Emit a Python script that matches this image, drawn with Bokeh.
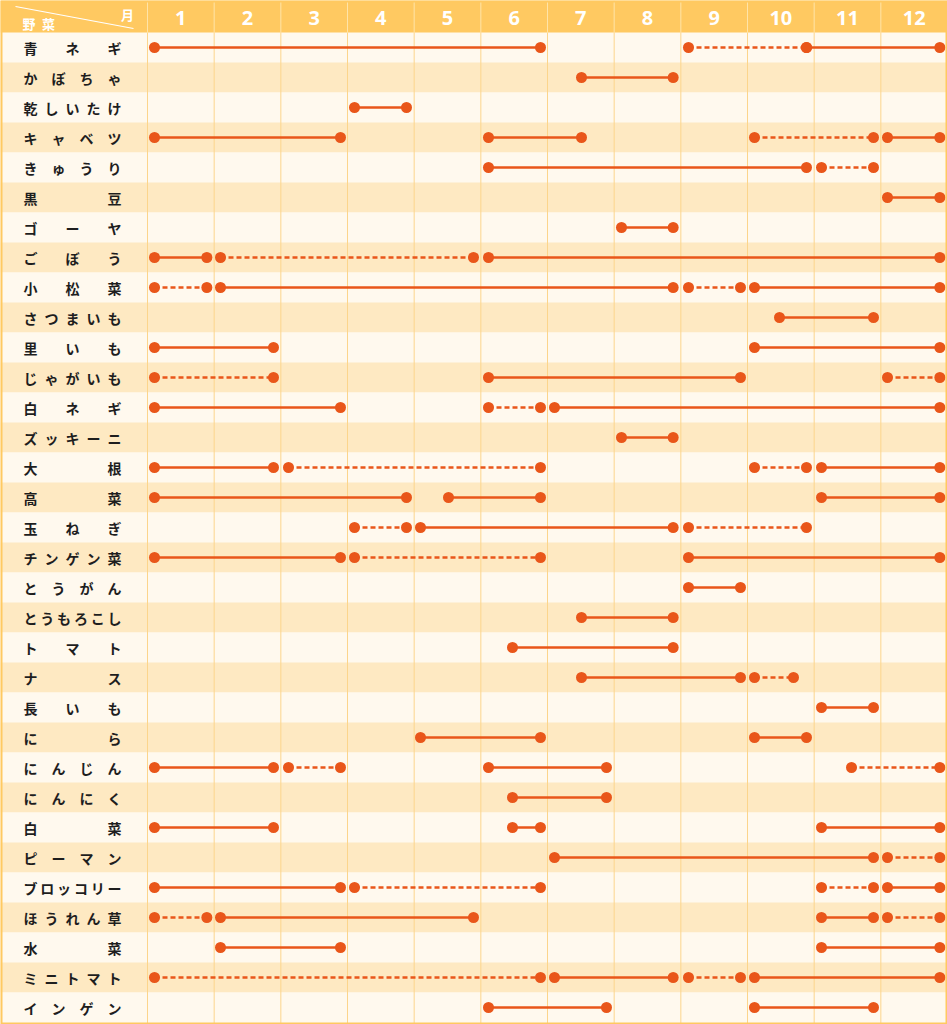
from bokeh.plotting import figure
from bokeh.models import Range1d, ColumnDataSource
from bokeh.core.properties import value
from bokeh.embed import file_html
from bokeh.resources import INLINE

# ---------------- data ----------------
vegetables = ["青ネギ", "かぼちゃ", "乾しいたけ", "キャベツ", "きゅうり", "黒豆", "ゴーヤ",
              "ごぼう", "小松菜", "さつまいも", "里いも", "じゃがいも", "白ネギ", "ズッキーニ",
              "大根", "高菜", "玉ねぎ", "チンゲン菜", "とうがん", "とうもろこし", "トマト",
              "ナス", "長いも", "にら", "にんじん", "にんにく", "白菜", "ピーマン",
              "ブロッコリー", "ほうれん草", "水菜", "ミニトマト", "インゲン"]
month_labels = ["1", "2", "3", "4", "5", "6", "7", "8", "9", "10", "11", "12"]

# segments: vegetable, start (month position), end (month position), dashed?
seg_veg = ["青ネギ", "青ネギ", "青ネギ",
           "かぼちゃ",
           "乾しいたけ",
           "キャベツ", "キャベツ", "キャベツ", "キャベツ",
           "きゅうり", "きゅうり",
           "黒豆",
           "ゴーヤ",
           "ごぼう", "ごぼう", "ごぼう",
           "小松菜", "小松菜", "小松菜", "小松菜",
           "さつまいも",
           "里いも", "里いも",
           "じゃがいも", "じゃがいも", "じゃがいも",
           "白ネギ", "白ネギ", "白ネギ",
           "ズッキーニ",
           "大根", "大根", "大根", "大根",
           "高菜", "高菜", "高菜",
           "玉ねぎ", "玉ねぎ", "玉ねぎ",
           "チンゲン菜", "チンゲン菜", "チンゲン菜",
           "とうがん",
           "とうもろこし",
           "トマト",
           "ナス", "ナス",
           "長いも",
           "にら", "にら",
           "にんじん", "にんじん", "にんじん", "にんじん",
           "にんにく",
           "白菜", "白菜", "白菜",
           "ピーマン", "ピーマン",
           "ブロッコリー", "ブロッコリー", "ブロッコリー", "ブロッコリー",
           "ほうれん草", "ほうれん草", "ほうれん草", "ほうれん草",
           "水菜", "水菜",
           "ミニトマト", "ミニトマト", "ミニトマト", "ミニトマト",
           "インゲン", "インゲン"]
seg_start = [1.105, 9.115, 10.885,
             7.51,
             4.105,
             1.105, 6.115, 10.105, 12.1,
             6.115, 11.11,
             12.1,
             8.11,
             1.105, 2.095, 6.115,
             1.105, 2.095, 9.115, 10.105,
             10.48,
             1.105, 10.105,
             1.105, 6.115, 12.1,
             1.105, 6.115, 7.105,
             8.11,
             1.105, 3.115, 10.105, 11.11,
             1.105, 5.515, 11.11,
             4.105, 5.095, 9.115,
             1.105, 4.105, 9.115,
             9.115,
             7.51,
             6.475,
             7.51, 10.105,
             11.11,
             5.095, 10.105,
             1.105, 3.115, 6.115, 11.56,
             6.475,
             1.105, 6.475, 11.11,
             7.105, 12.1,
             1.105, 4.105, 11.11, 12.1,
             1.105, 2.095, 11.11, 12.1,
             2.095, 11.11,
             1.105, 7.105, 9.115, 10.105,
             6.115, 10.105]
seg_end = [6.895, 10.885, 12.885,
           8.885,
           4.885,
           3.895, 7.51, 11.89, 12.885,
           10.885, 11.89,
           12.885,
           8.885,
           1.89, 5.89, 12.885,
           1.89, 8.885, 9.895, 12.885,
           11.89,
           2.89, 12.885,
           2.89, 9.895, 12.885,
           3.895, 6.895, 12.885,
           8.885,
           2.89, 6.895, 10.885, 12.885,
           4.885, 6.895, 12.885,
           4.885, 8.885, 10.885,
           3.895, 6.895, 12.885,
           9.895,
           8.885,
           8.885,
           9.895, 10.69,
           11.89,
           6.895, 10.885,
           2.89, 3.895, 7.885, 12.885,
           7.885,
           2.89, 6.895, 12.885,
           11.89, 12.885,
           3.895, 6.895, 11.89, 12.885,
           1.89, 5.89, 11.89, 12.885,
           3.895, 12.885,
           6.895, 8.885, 9.895, 12.885,
           7.885, 11.89]
seg_dashed = [False, True, False,
              False,
              False,
              False, False, True, False,
              False, True,
              False,
              False,
              False, True, False,
              True, False, True, False,
              False,
              False, False,
              True, False, True,
              False, True, False,
              False,
              False, True, True, False,
              False, False, False,
              True, False, True,
              False, True, False,
              False,
              False,
              False,
              False, True,
              False,
              False, False,
              False, True, False, True,
              False,
              False, False, False,
              False, True,
              False, True, True, False,
              True, False, False, True,
              False, False,
              True, False, True, False,
              False, False]

# ---------------- layout helpers ----------------
W, H = 947, 1024
LABEL_PX = 147
PXM = (W - LABEL_PX) / 12.0          # pixels per month
X0 = 1 - LABEL_PX / PXM
ROW_PX = 30
HEADER_PX = 32
Y_TOP = 1 - (HEADER_PX + ROW_PX / 2) / ROW_PX
Y_BOT = 1 + (H - HEADER_PX - ROW_PX / 2) / ROW_PX

def xpx(px):
    return X0 + px / PXM

def ypx(py):
    return Y_TOP + py / ROW_PX

HEADER = "#FFC961"
ROW_A = "#FFF9EE"
ROW_B = "#FEE9C2"
GRIDC = "#FCD58C"
MARK = "#E9561A"
TEXTC = "#1E1E1E"

p = figure(width=W, height=H, x_range=Range1d(X0, 13), y_range=Range1d(Y_BOT, Y_TOP),
           output_backend="svg", toolbar_location=None, min_border=0,
           x_axis_location=None, y_axis_location=None)
p.grid.visible = False
p.outline_line_color = None
p.background_fill_color = ROW_A
p.border_fill_color = ROW_A

n = len(vegetables)
rows = list(range(1, n + 1))
row_colors = [ROW_A if i % 2 == 1 else ROW_B for i in rows]
p.quad(left=X0, right=13, top=[r - 0.5 for r in rows], bottom=[r + 0.5 for r in rows],
       fill_color=row_colors, line_color=None)

# header band
p.quad(left=X0, right=13, top=Y_TOP, bottom=0.5, fill_color=HEADER, line_color=None)

# vertical grid lines
bounds = list(range(1, 14))
p.segment(x0=bounds, x1=bounds, y0=0.5, y1=Y_BOT, line_color=GRIDC, line_width=1)
p.segment(x0=bounds[:-1], x1=bounds[:-1], y0=Y_TOP, y1=0.5, line_color="#FFE4A8", line_width=1)

# header texts
p.text(x=[m + 0.5 for m in range(1, 13)], y=ypx(17), text=month_labels,
       text_color="white", text_font=value("Noto Sans"), text_font_style="bold",
       text_font_size="20px", text_align="center", text_baseline="middle")
p.segment(x0=xpx(15), y0=ypx(6), x1=xpx(133), y1=ypx(28), line_color="white", line_width=1.2)
p.text(x=xpx(22), y=ypx(23), text=["野\u2002菜"], text_color="white",
       text_font=value("Noto Sans CJK JP"), text_font_style="bold", text_font_size="13px",
       text_align="left", text_baseline="middle")
p.text(x=xpx(127), y=ypx(14), text=["月"], text_color="white",
       text_font=value("Noto Sans CJK JP"), text_font_style="bold", text_font_size="13px",
       text_align="center", text_baseline="middle")

# row labels (justified with spaces)
def spaced(s):
    k = len(s)
    sep = {2: "\u3000" * 5, 3: "\u3000" * 2, 4: "\u3000", 5: "\u2002", 6: "\u2009"}.get(k, "")
    return sep.join(list(s))

p.text(x=xpx(23), y=rows, text=[spaced(v) for v in vegetables], text_color=TEXTC,
       text_font=value("Noto Sans CJK JP"), text_font_style="bold", text_font_size="14px",
       text_align="left", text_baseline="middle")

# segments
row_of = {v: i + 1 for i, v in enumerate(vegetables)}
solid = ColumnDataSource(dict(
    x0=[s for s, d in zip(seg_start, seg_dashed) if not d],
    x1=[e for e, d in zip(seg_end, seg_dashed) if not d],
    y=[row_of[v] for v, d in zip(seg_veg, seg_dashed) if not d]))
dashed = ColumnDataSource(dict(
    x0=[s for s, d in zip(seg_start, seg_dashed) if d],
    x1=[e for e, d in zip(seg_end, seg_dashed) if d],
    y=[row_of[v] for v, d in zip(seg_veg, seg_dashed) if d]))
p.segment(x0="x0", x1="x1", y0="y", y1="y", source=solid, line_color=MARK, line_width=2.5)
p.segment(x0="x0", x1="x1", y0="y", y1="y", source=dashed, line_color=MARK, line_width=2.5,
          line_dash="5 3")

ys = [row_of[v] for v in seg_veg]
p.scatter(x=seg_start + seg_end, y=ys + ys, size=11, marker="circle",
          fill_color=MARK, line_color=None)

# outer border
p.quad(left=X0, right=13, top=Y_TOP, bottom=Y_BOT, fill_color=None, line_color=HEADER, line_width=4)

open("out.html", "w").write(file_html(p, INLINE))
